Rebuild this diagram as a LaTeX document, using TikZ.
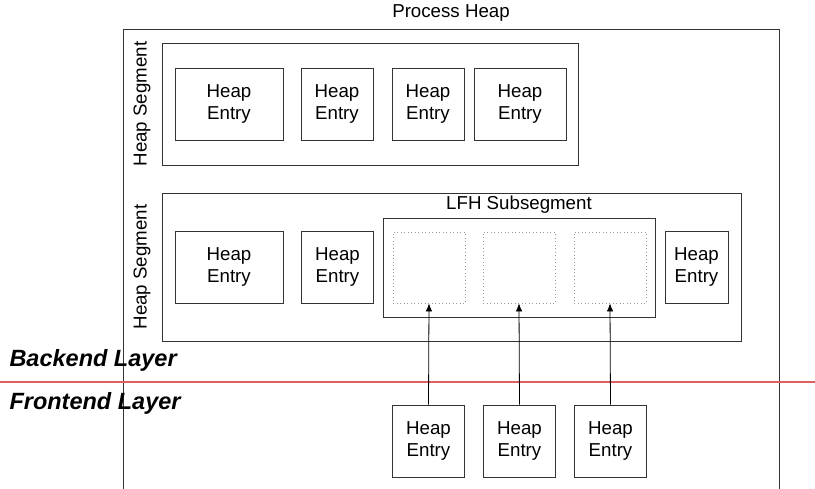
\documentclass[tikz,border=0pt]{standalone}
\usepackage{fontspec}
\setmainfont{Liberation Sans}
\usetikzlibrary{arrows.meta}

\tikzset{
	box/.style={draw=black!80, line width=0.8pt, inner sep=0pt},
	entry/.style={box, align=center, minimum height=72pt},
	slot/.style={draw=black!40, dash pattern=on 0.9pt off 2.6pt, line width=0.9pt, minimum width=72pt, minimum height=71pt},
	layer/.style={anchor=west, font=\fontsize{23.5}{27}\selectfont\bfseries\itshape},
	feed/.style={-{Latex[length=8pt,width=6.5pt]}, line width=0.8pt}
}

\begin{document}
\begin{tikzpicture}[x=1pt, y=1pt, font=\fontsize{18.7}{22.5}\selectfont]
	\useasboundingbox (0,0) rectangle (815,489);
	\clip (0,0) rectangle (815,489);

	% process heap, open at the bottom
	\node[box, minimum width=656pt, minimum height=500pt] (heap) at (451,210) {};
	\node (heaptitle) at (451,476) {Process Heap};

	% first heap segment
	\node[box, minimum width=416pt, minimum height=122pt] (segA) at (370,385) {};
	\node[rotate=90] (segAlabel) at (142,385) {Heap Segment};
	\node[entry, minimum width=108pt] (entryA1) at (229,385) {Heap\\Entry};
	\node[entry, minimum width=72pt] (entryA2) at (337,385) {Heap\\Entry};
	\node[entry, minimum width=72pt] (entryA3) at (428,385) {Heap\\Entry};
	\node[entry, minimum width=92pt] (entryA4) at (520,385) {Heap\\Entry};

	% second heap segment
	\node[box, minimum width=579pt, minimum height=148pt] (segB) at (451.5,222) {};
	\node[rotate=90] (segBlabel) at (142,222) {Heap Segment};
	\node[entry, minimum width=108pt] (entryB1) at (229,222) {Heap\\Entry};
	\node[entry, minimum width=72pt] (entryB2) at (337.5,222) {Heap\\Entry};
	\node[entry, minimum width=63pt] (entryB3) at (696.5,222) {Heap\\Entry};

	% LFH subsegment
	\node[box, minimum width=272pt, minimum height=99pt] (lfh) at (519,221.5) {};
	\node (lfhtitle) at (519,284) {LFH Subsegment};
	\node[slot] (slot1) at (429,221.5) {};
	\node[slot] (slot2) at (519,221.5) {};
	\node[slot] (slot3) at (610,221.5) {};

	% layers
	\draw[draw={rgb,255:red,224;green,96;blue,96}, line width=2.6pt] (0,107) -- (815,107);
	\node[layer] (backend) at (6,129) {Backend Layer};
	\node[layer] (frontend) at (6,86) {Frontend Layer};

	% frontend entries
	\node[entry, minimum width=72pt] (front1) at (428.5,48) {Heap\\Entry};
	\node[entry, minimum width=72pt] (front2) at (519.5,48) {Heap\\Entry};
	\node[entry, minimum width=72pt] (front3) at (610.5,48) {Heap\\Entry};

	\draw[feed] (front1.north) -- (slot1.south);
	\draw[feed] (front2.north) -- (slot2.south);
	\draw[feed] (front3.north) -- (slot3.south);
\end{tikzpicture}
\end{document}
